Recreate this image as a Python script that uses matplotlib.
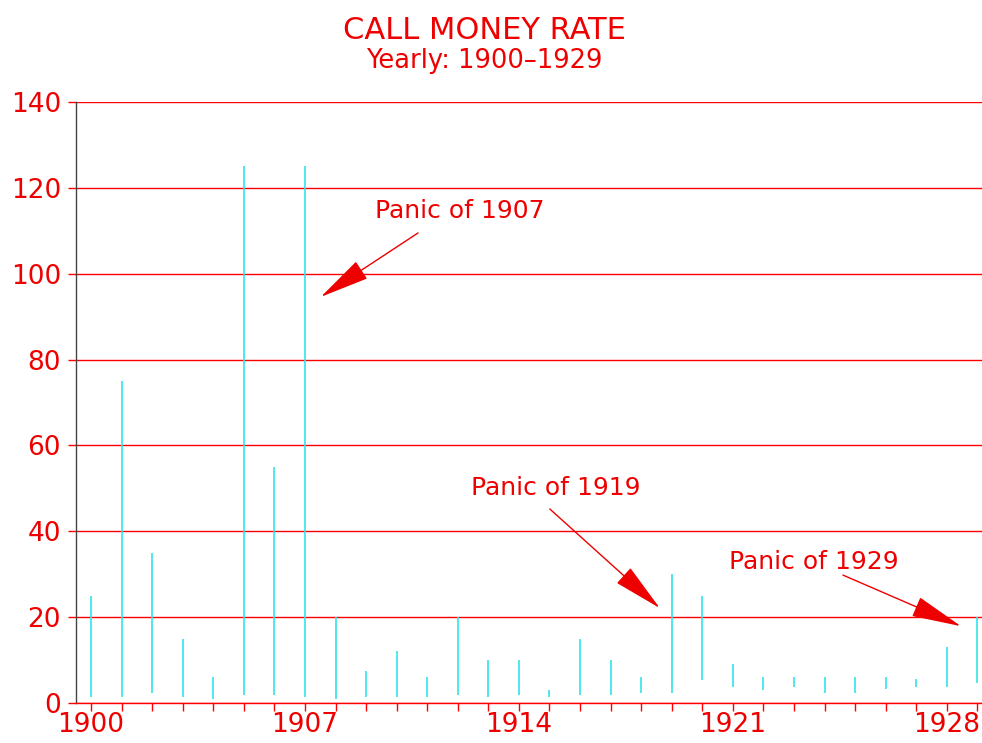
import matplotlib
matplotlib.use('Agg')
import matplotlib.pyplot as plt

years = list(range(1900, 1930))
highs = [25, 75, 35, 15, 6, 125, 55, 125, 20, 7.5,
         12, 6, 20, 10, 10, 3, 15, 10, 6, 30,
         25, 9, 6, 6, 6, 6, 6, 5.5, 13, 20]
lows = [1.5, 1.5, 2.3, 1.5, 1, 1.8, 1.8, 1.5, 1, 1.5,
        1.5, 1.5, 1.8, 1.5, 1.8, 1.5, 1.8, 1.8, 2.3, 2.3,
        5.3, 3.8, 3, 3.8, 2.4, 2.4, 3.3, 3.8, 3.8, 4.7]
xlabel_years = [1900, 1907, 1914, 1921, 1928]
yticks = list(range(0, 141, 20))

panic_labels = ["Panic of 1907", "Panic of 1919", "Panic of 1929"]

RED = '#ee0000'
CYAN = '#30e4ea'
FONT = ['DejaVu Sans']

fig = plt.figure(figsize=(9.82, 7.43), dpi=100)
ax = fig.add_axes([0.0774, 1 - 703 / 743, 1 - 0.0774, (703 - 102) / 743])

ax.vlines(years, lows, highs, colors=CYAN, linewidth=1.2, zorder=3)

ax.set_xlim(1899.51, 1929.15)
ax.set_ylim(0, 140)
ax.set_yticks(yticks)
ax.set_xticks(years)
ax.set_xticklabels([str(y) if y in xlabel_years else '' for y in years],
                   fontfamily=FONT)
ax.set_yticklabels([str(v) for v in yticks], fontfamily=FONT)
ax.yaxis.grid(True, color='#ff0000', linewidth=1.0, zorder=1)
ax.set_axisbelow(True)

for s in ['top', 'right']:
    ax.spines[s].set_visible(False)
ax.spines['bottom'].set_color('#ff0000')
ax.spines['bottom'].set_linewidth(1.0)
ax.spines['left'].set_color('#444444')
ax.spines['left'].set_linewidth(1.0)

ax.tick_params(axis='y', colors='#ff0000', labelcolor=RED, length=5.8,
               width=1, labelsize=19, pad=5)
ax.tick_params(axis='x', colors='#ff0000', labelcolor=RED, length=5.8,
               width=1, labelsize=19, pad=1)
ax.get_xticklines()[0].set_color('#666666')

# Titles
fig.text(484 / 982, 1 - 39 / 743, 'CALL MONEY RATE', ha='center', va='baseline',
         color=RED, fontsize=22, family=FONT)
fig.text(484 / 982, 1 - 68 / 743, 'Yearly: 1900\u20131929',
         ha='center', va='baseline', color=RED, fontsize=18.5, family=FONT)

# Annotations
text_pos = [(1912.07, 114.6), (1915.21, 50.1), (1923.65, 32.8)]
arrow_tail = [(1910.7, 109.5), (1915.01, 45.2), (1924.6, 29.8)]
arrow_tip = [(1907.52, 94.6), (1918.61, 22.1), (1928.46, 17.9)]
for lab, tp, tl, tip in zip(panic_labels, text_pos, arrow_tail, arrow_tip):
    ax.text(tp[0], tp[1], lab, ha='center', va='center', color=RED,
            fontsize=18, family=FONT)
    ax.annotate('', xy=tip, xytext=tl,
                arrowprops=dict(arrowstyle='-|>,head_length=1.6,head_width=0.33',
                                mutation_scale=20, color=RED, lw=1.0,
                                shrinkA=0, shrinkB=0))

fig.savefig('out.png', dpi=100)
